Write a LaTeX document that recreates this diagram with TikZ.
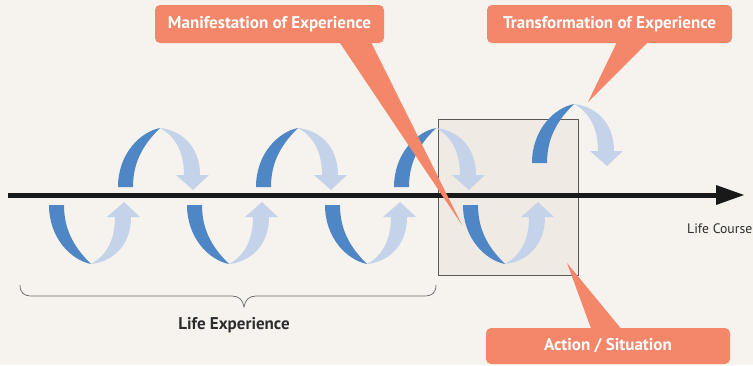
\documentclass[tikz,border=0pt]{standalone}
\usepackage{fontspec}
\setmainfont{PT Sans}
\definecolor{bgbeige}{RGB}{246,243,238}
\definecolor{boxbeige}{RGB}{239,235,228}
\definecolor{loopdark}{RGB}{79,134,198}
\definecolor{looplight}{RGB}{197,211,234}
\definecolor{salmon}{RGB}{244,134,106}
\definecolor{textgray}{RGB}{45,45,45}
\tikzset{
  callout/.style={fill=salmon, rounded corners=5pt, text=white, font=\bfseries\fontsize{17}{19}\selectfont, inner sep=0pt},
  darkarc/.style={fill=loopdark},
  lightarc/.style={fill=looplight}
}
% one half turn of the spiral, drawn from its start point
\newcommand{\halfturn}{%
  \fill[darkarc] (0,0) .. controls (0,33) and (22,55) .. (42,59) .. controls (28,45) and (15,28) .. (15,0) -- cycle;
  \fill[lightarc] (42,59) .. controls (62,57) and (82,42) .. (82,12) -- (91,12) -- (75,-3) -- (58,12) -- (66,12) .. controls (66,38) and (55,52) .. (42,59) -- cycle;
}
\begin{document}
\begin{tikzpicture}[x=1pt, y=-1pt]
\fill[bgbeige] (0,0) rectangle (753,365);
\useasboundingbox (0,0) rectangle (753,365);
\draw[fill=boxbeige, draw=black!65, line width=0.8pt] (438,119) rectangle (578,275);
\foreach \x in {49,187,325,463} {
  \begin{scope}[shift={(\x,205)}] \halfturn \end{scope}
}
\foreach \x/\y in {118/187, 256/187, 394/187, 532/163} {
  \begin{scope}[shift={(\x,\y)}, yscale=-1] \halfturn \end{scope}
}
\coordinate (start) at (8,195);
\coordinate (end) at (744,195);
\draw[line width=5pt, draw=black!90] (start) -- (718,195);
\fill[black!90] (716,185) -- (end) -- (716,205) -- cycle;
\node[anchor=base west, text=textgray, font=\fontsize{13.7}{15}\selectfont, inner sep=0pt] (course) at (687,233) {Life Course};
% brace under the past turns
\draw[draw=black!60, line width=0.7pt] (20,285) .. controls (20,293) and (24,296) .. (32,296) -- (232,296)
  .. controls (239,296) and (243,300) .. (244,307) .. controls (245,300) and (249,296) .. (256,296) -- (424,296)
  .. controls (432,296) and (436,293) .. (436,285);
\node[text=textgray, font=\bfseries\fontsize{17}{19}\selectfont] (lifeexp) at (234,325) {Life Experience};
% callouts
\node[callout, minimum width=229pt, minimum height=38pt] (manif) at (269.5,24) {Manifestation of Experience};
\node[callout, minimum width=245pt, minimum height=38pt] (transf) at (609.5,24) {Transformation of Experience};
\node[callout, minimum width=244pt, minimum height=36pt] (action) at (608,346) {Action / Situation};
\coordinate (manitip) at (462,225);
\coordinate (transtip) at (588,102);
\coordinate (acttip) at (567,263);
\fill[salmon] (338,40) -- (manitip) -- (370,40) -- cycle;
\fill[salmon] (618,40) -- (transtip) -- (650,40) -- cycle;
\fill[salmon] (592,331) -- (acttip) -- (623,331) -- cycle;
\end{tikzpicture}
\end{document}
